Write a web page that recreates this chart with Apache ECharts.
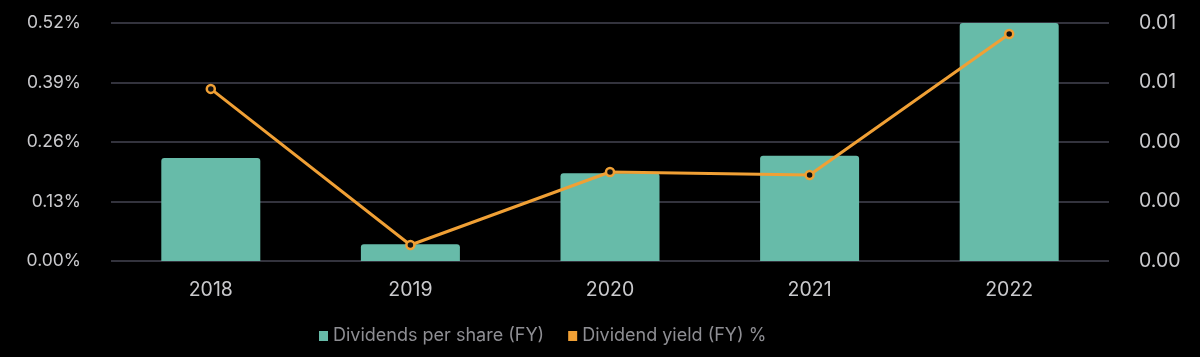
<!DOCTYPE html>
<html>
<head>
<meta charset="utf-8">
<script src="https://cdn.jsdelivr.net/npm/echarts@6/dist/echarts.min.js"></script>
<style>
html,body{margin:0;padding:0;background:#000;}
#c{width:1200px;height:357px;}
</style>
</head>
<body>
<div id="c"></div>
<script>
const categories = ['2018', '2019', '2020', '2021', '2022'];
const dividendsPerShare = [0.00346, 0.00056, 0.00295, 0.00354, 0.008];
const dividendYield = [0.376, 0.035, 0.1945, 0.188, 0.496];

const chart = echarts.init(document.getElementById('c'), null, {renderer: 'canvas'});
const fam = 'Inter, "Noto Sans", sans-serif';
chart.setOption({
  backgroundColor: '#000',
  animation: false,
  grid: {left: 111, right: 91, top: 23, bottom: 96},
  legend: {
    top: 322,
    left: 314,
    itemWidth: 9,
    itemHeight: 10,
    itemGap: 24,
    icon: 'rect',
    textStyle: {color: '#8e8e93', fontSize: 18, fontFamily: fam},
    data: [
      {name: 'Dividends per share (FY)', itemStyle: {color: '#67bba9'}},
      {name: 'Dividend yield (FY) %', itemStyle: {color: '#f0a035', borderWidth: 0}}
    ]
  },
  xAxis: {
    type: 'category',
    data: categories,
    axisLine: {show: false},
    axisTick: {show: false},
    axisLabel: {margin: 19, color: '#c9c9cc', fontSize: 19.5, fontFamily: fam}
  },
  yAxis: [
    {
      type: 'value', min: 0, max: 0.52, interval: 0.13,
      axisLabel: {margin: 30, color: '#c9c9cc', fontSize: 17.5, fontFamily: fam, formatter: v => v.toFixed(2) + '%'},
      splitLine: {lineStyle: {color: '#33333d', width: 2}},
      axisLine: {show: false}, axisTick: {show: false}
    },
    {
      type: 'value', min: 0, max: 0.008, interval: 0.002,
      axisLabel: {margin: 30, color: '#c9c9cc', fontSize: 19.5, fontFamily: fam, formatter: v => v.toFixed(2)},
      splitLine: {show: false},
      axisLine: {show: false}, axisTick: {show: false}
    }
  ],
  series: [
    {
      name: 'Dividends per share (FY)',
      type: 'bar',
      yAxisIndex: 1,
      data: dividendsPerShare,
      barWidth: 99,
      itemStyle: {color: '#67bba9', borderRadius: [3, 3, 0, 0]}
    },
    {
      name: 'Dividend yield (FY) %',
      type: 'line',
      yAxisIndex: 0,
      data: dividendYield,
      symbol: 'circle',
      symbolSize: 8,
      lineStyle: {color: '#f0a035', width: 3},
      itemStyle: {color: '#111', borderColor: '#f0a035', borderWidth: 2.5}
    }
  ]
});
</script>
</body>
</html>
